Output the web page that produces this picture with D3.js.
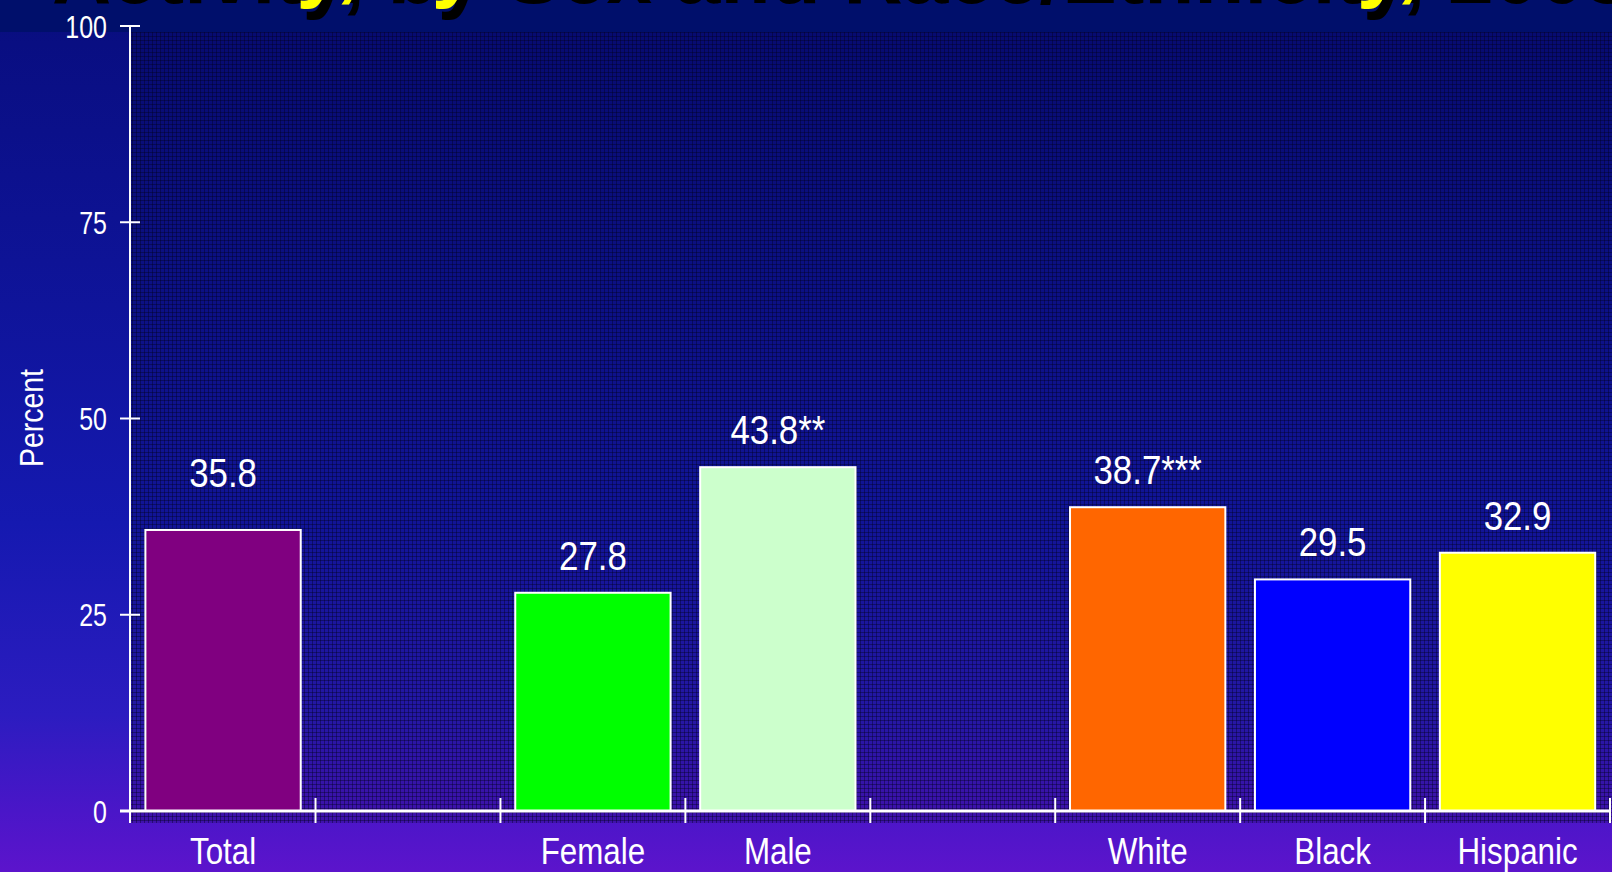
<!DOCTYPE html>
<html>
<head>
<meta charset="utf-8">
<script src="https://cdn.jsdelivr.net/npm/d3@7"></script>
<style>
  html, body { margin: 0; padding: 0; background: #000f6b; overflow: hidden; }
  svg { display: block; }
  .lbl { font-family: "Liberation Sans", Arial, sans-serif; }
</style>
</head>
<body>
<svg id="chart" width="1612" height="872"></svg>
<script>
// Chart data
const categories = ["Total", "", "Female", "Male", "", "White", "Black", "Hispanic"];
const values     = [35.8, null, 27.8, 43.8, null, 38.7, 29.5, 32.9];
const valueLabels = ["35.8", "", "27.8", "43.8**", "", "38.7***", "29.5", "32.9"];
const barColors  = ["#800080", null, "#00ff00", "#ccffcc", null, "#ff6600", "#0000ff", "#ffff00"];
const yTicks     = [0, 25, 50, 75, 100];
const titleText  = "Activity, by Sex and Race/Ethnicity, 2003";
const yTitle     = "Percent";

const W = 1612, H = 872;
const svg = d3.select("#chart");
const defs = svg.append("defs");

// Condensed text: horizontal squeeze around the anchor point
const squeeze = (sx) => (x, y) => `translate(${x},${y}) scale(${sx},1)`;

// Background: navy to purple vertical gradient
const bg = defs.append("linearGradient").attr("id", "bgGrad")
  .attr("x1", 0).attr("y1", 0).attr("x2", 0).attr("y2", 1);
[[0, "#080d7e"], [0.35, "#0f149a"], [0.6, "#1519b0"], [0.82, "#2c1cc0"], [0.93, "#4a16c8"], [1, "#5c14cc"]]
  .forEach(([o, c]) => bg.append("stop").attr("offset", o).attr("stop-color", c));

// Fine mesh texture over the plotting area
const pat = defs.append("pattern").attr("id", "mesh")
  .attr("width", 4).attr("height", 4).attr("patternUnits", "userSpaceOnUse");
pat.append("rect").attr("width", 4).attr("height", 4).attr("fill", "rgba(0,0,40,0.18)");
pat.append("rect").attr("width", 4).attr("height", 1).attr("fill", "rgba(0,0,30,0.38)");
pat.append("rect").attr("width", 1).attr("height", 4).attr("fill", "rgba(0,0,30,0.38)");

svg.append("rect").attr("width", W).attr("height", H).attr("fill", "url(#bgGrad)");
svg.append("rect").attr("width", W).attr("height", 32).attr("fill", "#000f6b");

// Title (mostly above the top edge), yellow with a black drop shadow
const title = svg.append("g")
  .style("font-family", "'Liberation Sans', Arial, sans-serif")
  .style("font-weight", "bold").style("font-size", "82px");
title.append("text").attr("x", 52).attr("y", 3).attr("fill", "#000").text(titleText);
title.append("text").attr("x", 46).attr("y", -8).attr("fill", "#ffff00").text(titleText);

// Scales
const x = d3.scaleBand().domain(d3.range(categories.length))
  .range([130.6, 1610]).paddingInner(0.16).paddingOuter(0.08);
const y = d3.scaleLinear().domain([0, 100]).range([811, 26]);

// Plot area texture
svg.append("rect").attr("x", 131).attr("y", 32).attr("width", W - 131).attr("height", 823 - 32)
  .attr("fill", "url(#mesh)");

// Bars
const idx = d3.range(categories.length).filter(i => values[i] != null);
svg.append("g").selectAll("rect").data(idx).join("rect")
  .attr("x", i => x(i))
  .attr("y", i => y(values[i]))
  .attr("width", x.bandwidth())
  .attr("height", i => y(0) - y(values[i]))
  .attr("fill", i => barColors[i])
  .attr("stroke", "#ffffff").attr("stroke-width", 2);

// Value labels (the overall figure sits a little higher)
const valT = squeeze(0.87);
svg.append("g").attr("class", "lbl").selectAll("text").data(idx).join("text")
  .attr("transform", i => valT(x(i) + x.bandwidth() / 2, y(values[i]) - (i === 0 ? 43 : 23)))
  .attr("text-anchor", "middle")
  .attr("fill", "#ffffff").style("font-size", "40px")
  .text(i => valueLabels[i]);

// Y axis
const yAxis = svg.append("g").attr("class", "lbl");
yAxis.append("line").attr("x1", 130).attr("x2", 130).attr("y1", y(100)).attr("y2", 823)
  .attr("stroke", "#fff").attr("stroke-width", 2);
yAxis.selectAll("line.tick").data(yTicks).join("line").attr("class", "tick")
  .attr("x1", 120).attr("x2", 140).attr("y1", d => y(d)).attr("y2", d => y(d))
  .attr("stroke", "#fff").attr("stroke-width", 2);
const tickT = squeeze(0.78);
yAxis.selectAll("text").data(yTicks).join("text")
  .attr("transform", d => tickT(107, y(d)))
  .attr("dy", "0.36em")
  .attr("text-anchor", "end").attr("fill", "#fff").style("font-size", "32px")
  .text(d => d);

svg.append("text").attr("class", "lbl")
  .attr("transform", "translate(43,418) rotate(-90) scale(0.86,1)")
  .attr("text-anchor", "middle").attr("fill", "#fff").style("font-size", "33px")
  .text(yTitle);

// X axis with tick marks on the band boundaries
const xAxis = svg.append("g").attr("class", "lbl");
xAxis.append("line").attr("x1", 120).attr("x2", 1610).attr("y1", y(0)).attr("y2", y(0))
  .attr("stroke", "#fff").attr("stroke-width", 3);
const bounds = d3.range(categories.length + 1).map(i => 130.6 + i * x.step());
xAxis.selectAll("line.tick").data(bounds.slice(1)).join("line").attr("class", "tick")
  .attr("x1", d => d).attr("x2", d => d).attr("y1", 798).attr("y2", 823)
  .attr("stroke", "#fff").attr("stroke-width", 2);
const catT = squeeze(0.87);
xAxis.selectAll("text").data(d3.range(categories.length).filter(i => categories[i]))
  .join("text")
  .attr("transform", i => catT(x(i) + x.bandwidth() / 2, 864))
  .attr("text-anchor", "middle").attr("fill", "#fff").style("font-size", "36px")
  .text(i => categories[i]);
</script>
</body>
</html>
